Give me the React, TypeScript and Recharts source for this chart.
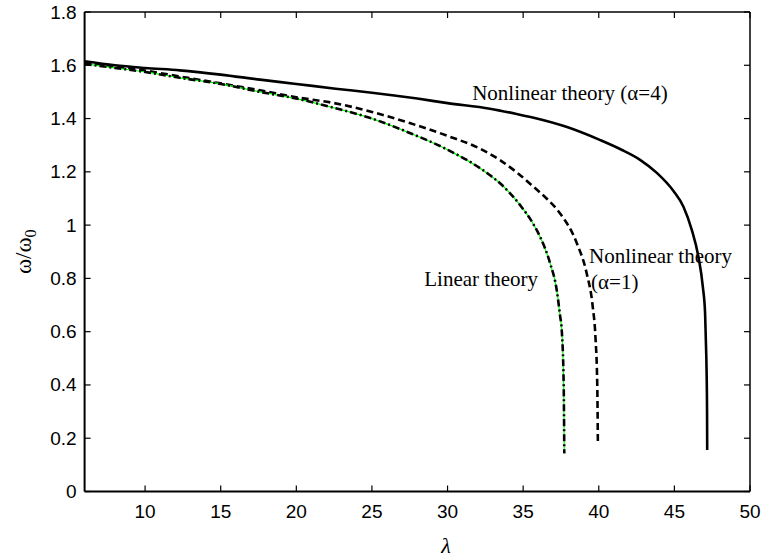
import { LineChart, Line, XAxis, YAxis, ReferenceDot } from 'recharts';

const xTicks = [10, 15, 20, 25, 30, 35, 40, 45, 50];
const yTicks = [0, 0.2, 0.4, 0.6, 0.8, 1, 1.2, 1.4, 1.6, 1.8];

// Nonlinear theory, alpha = 4 (solid)
const alpha4Lambda = [6, 8, 10, 12.3, 15, 17.6, 20, 22.6, 25, 28, 30, 32.8, 34.5, 35.7, 37.9, 40.1, 41.5, 42.73, 43.84, 44.94, 45.6, 46.15, 46.59, 46.88, 47.03, 47.08, 47.13, 47.16, 47.17];
const alpha4Omega = [1.615, 1.6, 1.59, 1.581, 1.565, 1.546, 1.53, 1.512, 1.497, 1.475, 1.458, 1.437, 1.418, 1.403, 1.368, 1.319, 1.283, 1.245, 1.196, 1.128, 1.069, 0.982, 0.881, 0.769, 0.669, 0.569, 0.45, 0.3, 0.156];

// Nonlinear theory, alpha = 1 (dashed)
const alpha1Lambda = [6, 8, 10, 12.3, 15, 17.6, 20, 22.5, 25, 27.5, 30, 32.4, 33.47, 34.6, 35.68, 36.6, 37.44, 38.55, 39.2, 39.6, 39.78, 39.9, 39.94];
const alpha1Omega = [1.61, 1.595, 1.58, 1.558, 1.532, 1.506, 1.48, 1.458, 1.425, 1.383, 1.335, 1.28, 1.244, 1.197, 1.144, 1.097, 1.044, 0.932, 0.819, 0.694, 0.58, 0.4, 0.187];

// Linear theory (dash-dot with green)
const linearLambda = [6, 8, 10, 12.3, 15, 17.6, 20, 22.5, 25, 27.5, 30, 32.6, 33.47, 34.8, 35.66, 36.12, 36.78, 37.22, 37.44, 37.55, 37.68, 37.72];
const linearOmega = [1.605, 1.59, 1.575, 1.553, 1.53, 1.5, 1.475, 1.44, 1.4, 1.346, 1.283, 1.196, 1.157, 1.075, 1.005, 0.956, 0.857, 0.756, 0.66, 0.607, 0.4, 0.144];

const annotations = [
  { text: 'Nonlinear theory (\u03b1=4)', lambda: 31.63, omega: 1.471 },
  { text: 'Linear theory', lambda: 28.46, omega: 0.772 },
  { text: 'Nonlinear theory', lambda: 39.36, omega: 0.858 },
  { text: '(\u03b1=1)', lambda: 39.49, omega: 0.761 },
];

const toPoints = (xs: number[], ys: number[]) => xs.map((x, i) => ({ lambda: x, omega: ys[i] }));

const alpha4Data = toPoints(alpha4Lambda, alpha4Omega);
const alpha1Data = toPoints(alpha1Lambda, alpha1Omega);
const linearData = toPoints(linearLambda, linearOmega);

const SANS = '"Liberation Sans", Arial, sans-serif';
const SERIF = '"Liberation Serif", "Times New Roman", serif';
const TICK = 6;

const fmt = (v: number) => String(Math.round(v * 10) / 10);

const LeftTick = ({ x, y, payload }: any) => (
  <g>
    <line x1={x} y1={y} x2={x + TICK} y2={y} stroke="#000" strokeWidth={1.2} />
    <text x={x - 8} y={y + 6.5} textAnchor="end" fontFamily={SANS} fontSize={19} fill="#000">
      {fmt(payload.value)}
    </text>
  </g>
);

const RightTick = ({ x, y }: any) => (
  <line x1={x} y1={y} x2={x - TICK} y2={y} stroke="#000" strokeWidth={1.2} />
);

const BottomTick = ({ x, y, payload }: any) => (
  <g>
    <line x1={x} y1={y} x2={x} y2={y - TICK} stroke="#000" strokeWidth={1.2} />
    <text x={x} y={y + 26} textAnchor="middle" fontFamily={SANS} fontSize={19} fill="#000">
      {payload.value}
    </text>
  </g>
);

const TopTick = ({ x, y }: any) => (
  <line x1={x} y1={y} x2={x} y2={y + TICK} stroke="#000" strokeWidth={1.2} />
);

const YLabel = ({ viewBox }: any) => {
  const cx = viewBox.x + 31;
  const cy = viewBox.y + viewBox.height / 2;
  return (
    <text
      x={cx}
      y={cy}
      transform={`rotate(-90 ${cx} ${cy})`}
      textAnchor="middle"
      fontFamily={SERIF}
      fontSize={23}
      fill="#000"
    >
      {'\u03c9/\u03c9'}
      <tspan fontSize={16} dy={5}>0</tspan>
    </text>
  );
};

const XLabel = ({ viewBox }: any) => (
  <text
    x={viewBox.x + viewBox.width * 0.543}
    y={viewBox.y + 61}
    textAnchor="middle"
    fontFamily={SERIF}
    fontStyle="italic"
    fontSize={22}
    fill="#000"
  >
    {'\u03bb'}
  </text>
);

export default function App() {
  return (
    <div style={{ position: 'absolute', left: 0, top: 0, width: 763, height: 560, background: '#fff' }}>
      <LineChart width={763} height={560} margin={{ top: 11, right: 12, left: 0, bottom: 0 }}>
        <XAxis
          dataKey="lambda"
          type="number"
          domain={[6, 50]}
          ticks={xTicks}
          allowDataOverflow
          height={68.5}
          tickSize={0}
          tickMargin={0}
          tickLine={false}
          tick={<BottomTick />}
          axisLine={{ stroke: '#000', strokeWidth: 2 }}
          label={<XLabel />}
        />
        <XAxis
          xAxisId="top"
          dataKey="lambda"
          orientation="top"
          type="number"
          domain={[6, 50]}
          ticks={xTicks}
          allowDataOverflow
          height={1}
          tickSize={0}
          tickMargin={0}
          tickLine={false}
          tick={<TopTick />}
          axisLine={{ stroke: '#000', strokeWidth: 1.5 }}
        />
        <YAxis
          type="number"
          domain={[0, 1.8]}
          ticks={yTicks}
          allowDataOverflow
          width={84.6}
          tickSize={0}
          tickMargin={0}
          tickLine={false}
          tick={<LeftTick />}
          axisLine={{ stroke: '#000', strokeWidth: 2 }}
          label={<YLabel />}
        />
        <YAxis
          yAxisId="right"
          orientation="right"
          type="number"
          domain={[0, 1.8]}
          ticks={yTicks}
          allowDataOverflow
          width={1}
          tickSize={0}
          tickMargin={0}
          tickLine={false}
          tick={<RightTick />}
          axisLine={{ stroke: '#000', strokeWidth: 1.5 }}
        />
        <Line
          data={alpha4Data}
          dataKey="omega"
          type="monotone"
          stroke="#000"
          strokeWidth={2.6}
          dot={false}
          isAnimationActive={false}
        />
        <Line
          data={alpha1Data}
          dataKey="omega"
          type="monotone"
          stroke="#000"
          strokeWidth={2.6}
          strokeDasharray="7 4"
          dot={false}
          isAnimationActive={false}
        />
        <Line
          data={linearData}
          xAxisId="top"
          yAxisId="right"
          dataKey="omega"
          type="monotone"
          stroke="#00ff00"
          strokeWidth={1.2}
          dot={false}
          isAnimationActive={false}
        />
        <Line
          data={linearData}
          dataKey="omega"
          type="monotone"
          stroke="#000"
          strokeWidth={2.6}
          strokeDasharray="7 3 2 3"
          dot={false}
          isAnimationActive={false}
        />
        {annotations.map((a) => (
          <ReferenceDot
            key={a.text}
            x={a.lambda}
            y={a.omega}
            r={0}
            fill="none"
            stroke="none"
            label={({ viewBox }: any) => (
              <text x={viewBox.x} y={viewBox.y} fontFamily={SERIF} fontSize={21} fill="#000">
                {a.text}
              </text>
            )}
          />
        ))}
      </LineChart>
    </div>
  );
}
